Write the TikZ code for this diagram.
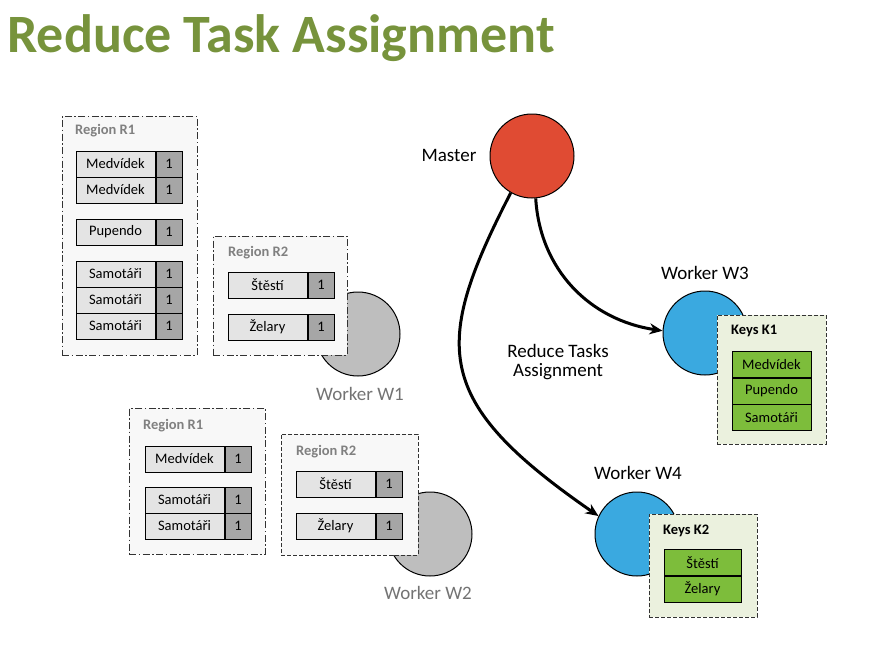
\documentclass[tikz,border=0pt]{standalone}
\usepackage{fontspec}
\setmainfont{Carlito}
\usetikzlibrary{arrows.meta,positioning}
\definecolor{titlegreen}{HTML}{77933C}
\definecolor{cellgray}{HTML}{E4E4E4}
\definecolor{valgray}{HTML}{A6A6A6}
\definecolor{regionbg}{HTML}{F8F8F8}
\definecolor{labelgray}{HTML}{808080}
\definecolor{workergray}{HTML}{BEBEBE}
\definecolor{masterred}{HTML}{E04B33}
\definecolor{workerblue}{HTML}{3AA9E0}
\definecolor{keygreen}{HTML}{7DBD3B}
\definecolor{keybg}{HTML}{EBF1DE}
\tikzstyle{keycell}=[draw=black,fill=cellgray,line width=1pt,minimum width=79pt,minimum height=26pt,inner sep=0pt,font=\fontsize{14.5}{16}\selectfont]
\tikzstyle{valcell}=[keycell,fill=valgray,minimum width=26pt]
\tikzstyle{greencell}=[keycell,fill=keygreen]
\tikzstyle{region}=[draw=black!80,line width=0.9pt,fill=regionbg,dash pattern=on 7pt off 2.5pt on 1.5pt off 2.5pt,inner sep=0pt]
\tikzstyle{dashregion}=[region,dash pattern=on 4pt off 2pt]
\tikzstyle{keybox}=[draw=black!80,line width=0.9pt,fill=keybg,dash pattern=on 4pt off 2pt,inner sep=0pt]
\tikzstyle{worker}=[circle,draw=black,line width=1pt,minimum size=84pt,inner sep=0pt]
\tikzstyle{regionlabel}=[anchor=west,text=labelgray,font=\bfseries\fontsize{14.5}{16}\selectfont,inner sep=0pt]
\tikzstyle{keylabel}=[anchor=west,font=\bfseries\fontsize{14.5}{16}\selectfont,inner sep=0pt]
\tikzstyle{workerlabel}=[font=\fontsize{19}{20}\selectfont,inner sep=0pt]
\tikzstyle{assign}=[draw,line width=3pt,-{Stealth[length=13pt,width=11pt]}]

\begin{document}
\begin{tikzpicture}[x=1pt,y=-1pt]
\useasboundingbox (0,0) rectangle (887,648);

% Title
  \node[anchor=base west,inner sep=0pt,text=titlegreen,font=\bfseries\fontsize{54}{58}\selectfont] (title) at (7,52) {Reduce Task Assignment};

%workers
  \node[worker,fill=workergray] (w1) at (358,334) {};
  \node[worker,fill=workergray] (w2) at (430,534) {};
  \node[worker,fill=masterred] (master) at (532,156) {};
  \node[worker,fill=workerblue] (w3) at (705,333) {};
  \node[worker,fill=workerblue] (w4) at (637,534) {};

  \node[workerlabel] (masterlabel) at (449,155) {Master};
  \node[workerlabel,text=black!55] (w1label) at (360,394) {Worker W1};
  \node[workerlabel,text=black!55] (w2label) at (428,593) {Worker W2};
  \node[workerlabel] (w3label) at (705,273) {Worker W3};
  \node[workerlabel] (w4label) at (638,473) {Worker W4};

%W1 regions
  \node[region,minimum width=135pt,minimum height=239pt] (w1r1) at (129.5,235.5) {};
  \node[region,minimum width=134pt,minimum height=119pt] (w1r2) at (280,295.5) {};
  \node[regionlabel] (w1r1label) at (75,131) {Region R1};
  \node[regionlabel] (w1r2label) at (228,253) {Region R2};

  \foreach \pos/\name/\key in {{(115.5,164)/w1a/Medvídek}, {(115.5,190)/w1b/Medvídek}, {(115.5,232)/w1c/Pupendo},
      {(115.5,274)/w1d/Samotáři}, {(115.5,300)/w1e/Samotáři}, {(115.5,326)/w1f/Samotáři},
      {(267.5,285)/w1g/Štěstí}, {(267.5,327)/w1h/Želary}}
    \node[keycell] (\name) at \pos {\key};
  \foreach \name in {w1a,w1b,w1c,w1d,w1e,w1f,w1g,w1h}
    \node[valcell,right=0pt of \name] (\name v) {1};

%W2 regions
  \node[region,minimum width=136pt,minimum height=146pt] (w2r1) at (197,481) {};
  \node[dashregion,minimum width=137pt,minimum height=121pt] (w2r2) at (349.5,494.5) {};
  \node[regionlabel] (w2r1label) at (143,426) {Region R1};
  \node[regionlabel] (w2r2label) at (296,452) {Region R2};

  \foreach \pos/\name/\key in {{(184.5,459)/w2a/Medvídek}, {(184.5,500)/w2b/Samotáři}, {(184.5,526)/w2c/Samotáři},
      {(335.5,484)/w2d/Štěstí}, {(335.5,526)/w2e/Želary}}
    \node[keycell] (\name) at \pos {\key};
  \foreach \name in {w2a,w2b,w2c,w2d,w2e}
    \node[valcell,right=0pt of \name] (\name v) {1};

%keys W3
  \node[keybox,minimum width=109pt,minimum height=129pt] (k1) at (771.5,379.5) {};
  \node[keylabel] (k1label) at (731,331) {Keys K1};
  \foreach \pos/\name/\key in {{(771.5,364.5)/k1a/Medvídek}, {(771.5,391)/k1b/Pupendo}, {(771.5,417.5)/k1c/Samotáři}}
    \node[greencell] (\name) at \pos {\key};

%keys W4
  \node[keybox,minimum width=108pt,minimum height=103pt] (k2) at (703,565.5) {};
  \node[keylabel] (k2label) at (663,531) {Keys K2};
  \foreach \pos/\name/\key in {{(702.5,562.5)/k2a/Štěstí}, {(702.5,589)/k2b/Želary}}
    \node[greencell,minimum width=77pt] (\name) at \pos {\key};

% assignment arrows
  \draw[assign] (master.240) .. controls (432,346) and (432,401) .. (w4.155);
  \draw[assign] (master.275) .. controls (540,270) and (590,320) .. (w3.177);
  \node[align=center,font=\fontsize{19}{19.5}\selectfont] (assignlabel) at (558,362) {Reduce Tasks\\Assignment};

\end{tikzpicture}
\end{document}
